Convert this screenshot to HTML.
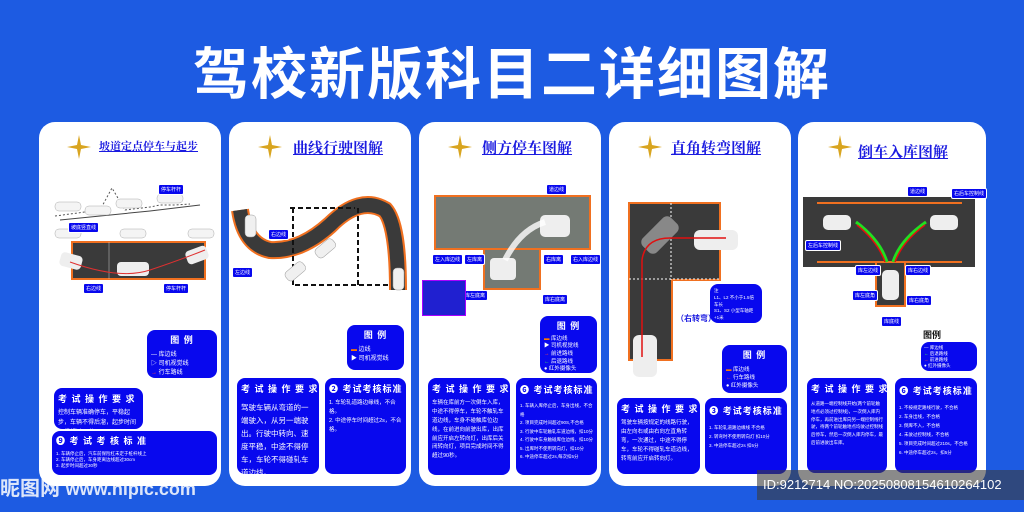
<!DOCTYPE html><html><head><meta charset="utf-8"><style>
*{margin:0;padding:0;box-sizing:border-box}
body{width:1024px;height:512px;background:#1d5be2;position:relative;overflow:hidden;font-family:"Liberation Sans","Noto Sans CJK SC",sans-serif}
.a{position:absolute}
.card{position:absolute;background:#fff;border-radius:16px;top:122px;height:364px}
.t{position:absolute;font-family:"Liberation Serif","Noto Serif CJK SC",serif;font-weight:bold;font-size:15px;color:#1a1ae0;text-decoration:underline;white-space:nowrap}
.bb{position:absolute;background:#0808ee;border-radius:8px;color:#fff;font-size:6px;line-height:1.6;padding:4px;overflow:hidden}
.bb h{display:block;font-weight:bold;font-size:9px;text-align:center;letter-spacing:1px;margin-bottom:3px;white-space:nowrap}
.lab{position:absolute;background:#0808ee;color:#fff;font-size:5px;padding:1px 2px;border-radius:2px;border:1px solid #fff;white-space:nowrap}
</style></head><body>
<div class="a" style="left:0;top:30px;width:1024px;text-align:center;color:#fff;font-size:56px;font-weight:bold;letter-spacing:2px">驾校新版科目二详细图解</div>

<div class="card" style="left:39px;width:182px"></div>
<div class="card" style="left:229px;width:182px"></div>
<div class="card" style="left:419px;width:182px"></div>
<div class="card" style="left:609px;width:182px"></div>
<div class="card" style="left:798px;width:188px"></div>

<svg class="a" style="left:0;top:0" width="1024" height="512">
<defs><g id="s"><path d="M0,-12 L2,-2 L12,0 L2,2 L0,12 L-2,2 L-12,0 L-2,-2Z" fill="#d9a520"/></g></defs>
<use href="#s" x="79" y="147"/><use href="#s" x="270" y="147"/><use href="#s" x="460" y="147"/><use href="#s" x="650" y="147"/><use href="#s" x="840" y="147"/>
<path d="M55,216 L100,210 L112,188 L125,210 L150,207 L160,205 L175,205 L190,204" fill="none" stroke="#555" stroke-width="1" stroke-dasharray="2,2"/>
<path d="M60,220 L150,211 L200,205" fill="none" stroke="#444"/>
<g fill="#f4f4f4" stroke="#aaa" stroke-width=".5">
<rect x="55" y="202" width="26" height="9" rx="4"/><rect x="85" y="206" width="26" height="9" rx="4"/><rect x="116" y="199" width="26" height="9" rx="4"/><rect x="157" y="194" width="26" height="9" rx="4"/>
<rect x="55" y="229" width="26" height="9" rx="4"/><rect x="120" y="229" width="26" height="9" rx="4"/><rect x="188" y="229" width="26" height="9" rx="4"/></g>
<rect x="72" y="242" width="133" height="37" fill="#3a3a3a" stroke="#f07020" stroke-width="2"/>
<line x1="109" y1="242" x2="109" y2="279" stroke="#ccc" stroke-width=".5"/>
<rect x="60" y="254" width="22" height="14" rx="4" fill="#eee" transform="rotate(15 71 261)"/>
<rect x="117" y="262" width="32" height="14" rx="4" fill="#eee"/>
<rect x="186" y="248" width="22" height="14" rx="4" fill="#eee" transform="rotate(-20 197 255)"/>
<path d="M70,262 Q120,280 150,270 T205,250" fill="none" stroke="#e03030" stroke-width="1"/>
<path d="M240,210 Q245,245 270,250 Q300,252 330,225 Q360,195 385,210 Q398,225 398,290" fill="none" stroke="#f07020" stroke-width="18"/>
<path d="M240,210 Q245,245 270,250 Q300,252 330,225 Q360,195 385,210 Q398,225 398,290" fill="none" stroke="#3a3a3a" stroke-width="14"/>
<path d="M290,208 L355,208 M293,208 L293,285 M358,208 L358,285 M295,285 L390,285" stroke="#111" stroke-width="2" stroke-dasharray="5,3"/>
<g fill="#f0f0f0" stroke="#999" stroke-width=".5"><rect x="245" y="215" width="11" height="22" rx="4"/><rect x="290" y="260" width="11" height="22" rx="4" transform="rotate(50 295 271)"/><rect x="320" y="237" width="11" height="22" rx="4" transform="rotate(50 325 248)"/><rect x="393" y="268" width="11" height="22" rx="4"/></g>
<rect x="435" y="196" width="155" height="53" fill="#747a74" stroke="#f07020" stroke-width="2"/>
<rect x="484" y="249" width="56" height="40" fill="#747a74" stroke="#f07020" stroke-width="2"/>
<rect x="490" y="258" width="26" height="22" rx="4" fill="#eee"/>
<rect x="540" y="215" width="30" height="22" rx="5" fill="#eee"/>
<path d="M505,260 Q520,230 545,222" stroke="#fff" stroke-width="6" fill="none" opacity=".8"/>
<path d="M629,203 L720,203 L720,280 L672,280 L672,360 L629,360Z" fill="#3a3a3a" stroke="#f07020" stroke-width="2"/>
<line x1="629" y1="279" x2="720" y2="279" stroke="#fff" stroke-dasharray="2,2"/>
<line x1="671" y1="203" x2="671" y2="280" stroke="#fff" stroke-dasharray="2,2"/>
<rect x="694" y="230" width="44" height="20" rx="6" fill="#eee"/>
<rect x="633" y="335" width="24" height="42" rx="6" fill="#eee"/>
<rect x="640" y="225" width="40" height="20" rx="6" fill="#888" transform="rotate(-45 660 235)"/>
<path d="M642,357 L642,260 Q645,238 670,238 L726,238" fill="none" stroke="#e01010" stroke-width="1.5"/>
<rect x="803" y="197" width="172" height="70" fill="#3a3a3a"/>
<line x1="817" y1="203" x2="962" y2="203" stroke="#f07020" stroke-width="2"/>
<line x1="817" y1="262" x2="962" y2="262" stroke="#f07020" stroke-width="2"/>
<rect x="876" y="262" width="29" height="44" fill="#3a3a3a" stroke="#f07020" stroke-width="2"/>
<rect x="823" y="215" width="28" height="15" rx="5" fill="#eee"/>
<rect x="930" y="215" width="28" height="15" rx="5" fill="#eee"/>
<rect x="882" y="270" width="17" height="30" rx="5" fill="#eee"/>
<path d="M856,222 Q880,240 887,262 M926,222 Q900,240 893,262" fill="none" stroke="#20e020" stroke-width="3"/>
<path d="M857,225 Q878,242 885,262 M925,225 Q902,242 895,262" fill="none" stroke="#e01010" stroke-width="1.5"/>
</svg>

<div class="t" style="left:99px;top:138px;font-size:11px">坡道定点停车与起步</div>
<div class="t" style="left:293px;top:137px">曲线行驶图解</div>
<div class="t" style="left:482px;top:137px">侧方停车图解</div>
<div class="t" style="left:671px;top:137px">直角转弯图解</div>
<div class="t" style="left:858px;top:141px">倒车入库图解</div>

<div class="lab" style="left:158px;top:184px">停车杆杆</div>
<div class="lab" style="left:68px;top:222px">坡底竖直线</div>
<div class="lab" style="left:83px;top:283px">右边线</div>
<div class="lab" style="left:163px;top:283px">停车杆杆</div>
<div class="lab" style="left:268px;top:229px">右边线</div>
<div class="lab" style="left:232px;top:267px">左边线</div>
<div class="lab" style="left:546px;top:184px">道边线</div>
<div class="lab" style="left:432px;top:254px">左入库边线</div>
<div class="lab" style="left:464px;top:254px">左库离</div>
<div class="lab" style="left:543px;top:254px">右库离</div>
<div class="lab" style="left:570px;top:254px">右入库边线</div>
<div class="lab" style="left:462px;top:290px">库左底离</div>
<div class="lab" style="left:542px;top:294px">库右底离</div>
<div class="lab" style="left:907px;top:186px">道边线</div>
<div class="lab" style="left:951px;top:188px">右后车控制线</div>
<div class="lab" style="left:805px;top:240px">左后车控制线</div>
<div class="lab" style="left:855px;top:265px">库左边线</div>
<div class="lab" style="left:905px;top:265px">库右边线</div>
<div class="lab" style="left:852px;top:290px">库左底角</div>
<div class="lab" style="left:906px;top:295px">库右底角</div>
<div class="lab" style="left:881px;top:316px">库底线</div>
<div class="a" style="left:676px;top:313px;color:#1a1ae0;font-size:8px;font-weight:bold">（右转弯）</div>
<div class="a" style="left:923px;top:328px;color:#111;font-size:9px;font-weight:bold">图例</div>
<div class="a" style="left:422px;top:280px;width:44px;height:36px;background:#2020d0;border:1px solid #a0f"></div>

<div class="bb" style="left:147px;top:330px;width:70px;height:48px;line-height:1.5"><h>图 例</h>— 库边线<br>▷ 司机视觉线<br><span style="color:#f44">→</span> 行车路线</div>
<div class="bb" style="left:54px;top:388px;width:89px;height:41px"><h style="text-align:left">考 试 操 作 要 求</h>控制车辆准确停车，平稳起步，车辆不得后溜，起步时间不得超过30秒</div>
<div class="bb" style="left:52px;top:431px;width:165px;height:44px;font-size:4.5px;line-height:1.4"><h style="text-align:left">❾ 考 试 考 核 标 准</h>1. 车辆停止后，汽车前保险杠未定于桩杆线上<br>2. 车辆停止后，车身距离边线超过30cm<br>3. 起步时间超过30秒</div>

<div class="bb" style="left:347px;top:325px;width:57px;height:45px;line-height:1.5"><h>图 例</h><span style="color:#f70">▬</span> 边线<br>▶ 司机视觉线</div>
<div class="bb" style="left:237px;top:378px;width:82px;height:96px;font-size:7.5px;line-height:1.75"><h style="font-size:9px">考 试 操 作 要 求</h>驾驶车辆从弯道的一端驶入，从另一端驶出。行驶中转向、速度平稳，中途不得停车，车轮不得碰轧车道边线。</div>
<div class="bb" style="left:325px;top:378px;width:81px;height:96px;font-size:5.5px"><h style="font-size:9px">❷ 考试考核标准</h>1. 车轮轧道路边缘线，不合格。<br>2. 中途停车时间超过2s，不合格。</div>

<div class="bb" style="left:540px;top:316px;width:57px;height:57px;font-size:5.5px;line-height:1.4"><h>图 例</h><span style="color:#f70">▬</span> 库边线<br>▶ 司机视觉线<br><span style="color:#f44">→</span> 前进路线<br><span style="color:#4f4">←</span> 后退路线<br>● 红外摄像头</div>
<div class="bb" style="left:428px;top:378px;width:82px;height:97px;font-size:5.5px;line-height:1.6"><h style="font-size:9px">考 试 操 作 要 求</h>车辆在库前方一次倒车入库，中途不得停车，车轮不触轧车道边线，车身不碰触库位边线，在前进向前驶出库，出库前应开启左转向灯，出库后关闭转向灯，项目完成时间不得超过90秒。</div>
<div class="bb" style="left:516px;top:378px;width:81px;height:97px;font-size:4.5px;line-height:1.9"><h style="font-size:9px">❻ 考试考核标准</h>1. 车辆入库停止后，车身出线，不合格<br>2. 项目完成时间超过90S,不合格<br>3. 行驶中车轮触轧车道边线，扣10分<br>4. 行驶中车身触碰库位边线，扣10分<br>5. 出库时不使用转向灯，扣10分<br>6. 中途停车超过2s,每次扣5分</div>

<div class="bb" style="left:710px;top:284px;width:52px;height:39px;font-size:4.5px;line-height:1.5">注<br>L1、L2 不小于1.5倍车长<br>S1、S2 小型车轴距+1米</div>
<div class="bb" style="left:722px;top:345px;width:65px;height:48px;font-size:5.5px;line-height:1.5"><h>图 例</h><span style="color:#f70">▬</span> 库边线<br><span style="color:#f44">←</span> 行车路线<br>● 红外摄像头</div>
<div class="bb" style="left:617px;top:398px;width:83px;height:76px;font-size:5.5px;line-height:1.6"><h style="font-size:9px">考 试 操 作 要 求</h>驾驶车辆按规定的线路行驶，由左向右或由右向左直角转弯，一次通过，中途不得停车，车轮不得碰轧车道边线，转弯前应开启转向灯。</div>
<div class="bb" style="left:705px;top:398px;width:82px;height:76px;font-size:4.5px;line-height:2"><h style="font-size:9px">❸ 考试考核标准</h>1. 车轮轧道路边缘线 不合格<br>2. 转弯时不使用转向灯 扣10分<br>3. 中途停车超过2s 扣5分</div>

<div class="bb" style="left:921px;top:342px;width:56px;height:29px;font-size:4.5px;line-height:1.3;padding:3px">— 库边线<br><span style="color:#4f4">←</span> 后退路线<br><span style="color:#f44">→</span> 前进路线<br>● 红外摄像头</div>
<div class="bb" style="left:807px;top:378px;width:80px;height:95px;font-size:4.5px;line-height:1.7"><h style="font-size:9px">考 试 操 作 要 求</h>从道路一端控制线开始(两个前轮触地点必须过控制线)，一次倒入库内停车，再前进出库向另一端控制线行驶，待两个前轮触地点均驶过控制线后停车，然后一次倒入库内停车，最后前进驶出车库。</div>
<div class="bb" style="left:895px;top:378px;width:82px;height:95px;font-size:4.5px;line-height:2"><h style="font-size:9px">❻ 考试考核标准</h>1. 不按规定路线行驶，不合格<br>2. 车身出线，不合格<br>3. 倒库不入，不合格<br>4. 未驶过控制线，不合格<br>5. 项目完成时间超过210s，不合格<br>6. 中途停车超过2s，扣5分</div>

<div class="a" style="left:0;top:472px;color:#fff;font-size:20px;font-weight:bold;opacity:.85;white-space:nowrap">昵图网 <span style="font-size:18px">www.nipic.com</span></div>
<div class="a" style="left:757px;top:470px;width:267px;height:30px;background:rgba(60,60,60,.6);color:#fff;font-size:13px;line-height:30px;padding-left:6px;white-space:nowrap">ID:9212714 NO:20250808154610264102</div>
</body></html>
